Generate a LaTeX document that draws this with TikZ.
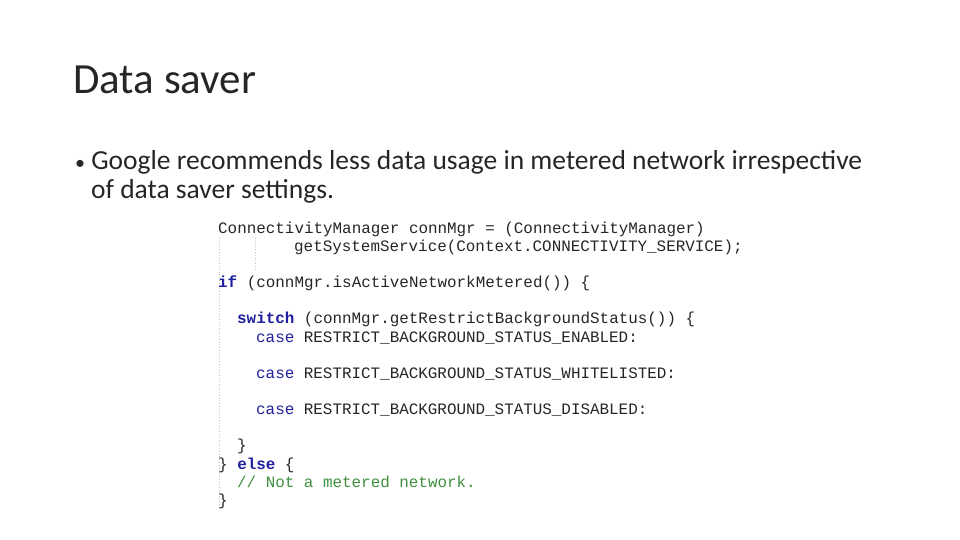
\documentclass[tikz,border=0pt]{standalone}
\usepackage{fontspec}
\setmainfont{Carlito}
\newfontfamily\codefont{Liberation Mono}
\definecolor{kw}{HTML}{1F1F9F}
\definecolor{cm}{HTML}{3F8F3F}
\definecolor{tx}{HTML}{262626}
\begin{document}
\begin{tikzpicture}[x=1pt,y=-1pt,
  code/.style={anchor=base west,inner sep=0pt,font=\codefont\fontsize{15.9}{16}\selectfont,text=tx},
  guide/.style={draw=gray!45,dotted,line width=0.8pt}]
\useasboundingbox (0,0) rectangle (960,540);
\node[anchor=base west,inner sep=0pt,font=\fontsize{43}{47}\selectfont,text=tx] (title) at (73,94) {Data saver};
\node[anchor=base west,inner sep=0pt,font=\fontsize{27.5}{30}\selectfont,text=tx] (b1) at (75,170) {{\fontsize{20}{20}\selectfont\textbullet}\ Google recommends less data usage in metered network irrespective};
\node[anchor=base west,inner sep=0pt,font=\fontsize{27.5}{30}\selectfont,text=tx] (b2) at (91,198) {of data saver settings.};
\draw[guide] (219,238) -- (219,506);
\draw[guide] (255,238) -- (255,270);
\node[code] (l1) at (218,233) {ConnectivityManager connMgr = (ConnectivityManager)};
\node[code] (l2) at (294,251) {getSystemService(Context.CONNECTIVITY\_SERVICE);};
\node[code] (l3) at (218,287) {\textcolor{kw}{\bfseries if} (connMgr.isActiveNetworkMetered()) \{};
\node[code] (l4) at (237,323) {\textcolor{kw}{\bfseries switch} (connMgr.getRestrictBackgroundStatus()) \{};
\node[code] (l5) at (256,342) {\textcolor{kw}{case} RESTRICT\_BACKGROUND\_STATUS\_ENABLED:};
\node[code] (l6) at (256,378) {\textcolor{kw}{case} RESTRICT\_BACKGROUND\_STATUS\_WHITELISTED:};
\node[code] (l7) at (256,414) {\textcolor{kw}{case} RESTRICT\_BACKGROUND\_STATUS\_DISABLED:};
\node[code] (l8) at (237,450) {\}};
\node[code] (l9) at (218,469) {\} \textcolor{kw}{\bfseries else} \{};
\node[code] (l10) at (237,487) {\textcolor{cm}{// Not a metered network.}};
\node[code] (l11) at (218,505) {\}};
\end{tikzpicture}
\end{document}
